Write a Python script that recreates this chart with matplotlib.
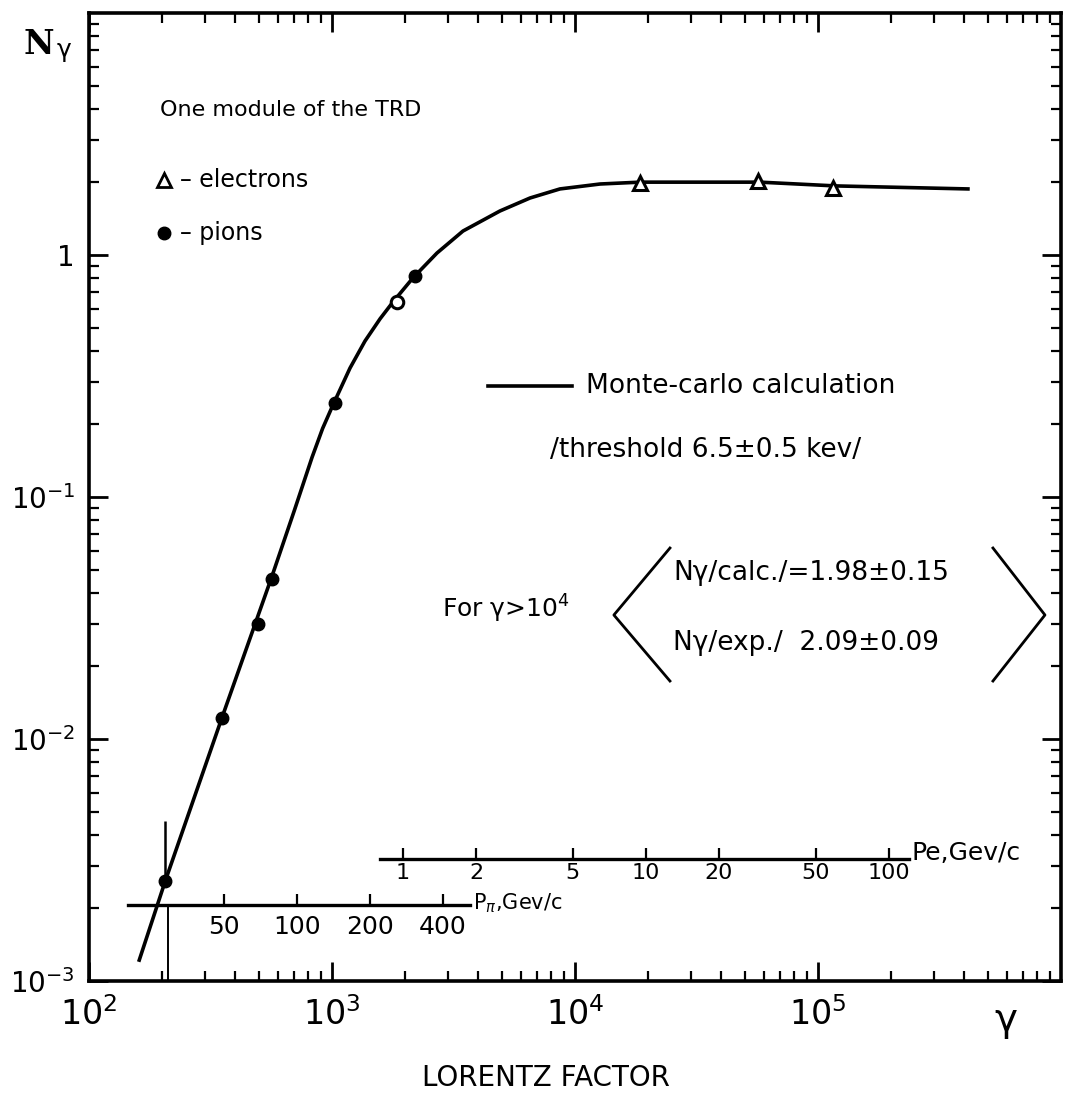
import matplotlib.pyplot as plt
from matplotlib.ticker import NullFormatter

# Monte-carlo calculation (solid curve)
curve_gamma = [161, 206, 352, 566, 700, 828, 915, 1009, 1186, 1367, 1577, 1783, 2153,
               2704, 3459, 4910, 6530, 8670, 12680, 18500, 57700, 117500, 414000]
curve_n = [1.22e-3, 2.59e-3, 0.0122, 0.0470, 0.088, 0.146, 0.192, 0.240, 0.341, 0.441,
           0.545, 0.640, 0.804, 1.019, 1.256, 1.52, 1.72, 1.875, 1.965, 2.0, 2.0,
           1.93, 1.875]

# measured points
pion_gamma = [206, 352, 496, 566, 1028, 2200]
pion_n = [2.6e-3, 0.0122, 0.030, 0.046, 0.245, 0.82]
pion_err_up = [2.0e-3, 0, 0, 0, 0, 0]
open_gamma = [1850]
open_n = [0.64]
electron_gamma = [18500, 56600, 115000]
electron_n = [1.98, 2.02, 1.90]

# momentum scales drawn inside the plot
m_pion = 0.1396   # GeV
m_electron = 0.000511
p_pi_ticks = [50, 100, 200, 400]
p_e_ticks = [1, 2, 5, 10, 20, 50, 100]

x_ticks = [1e2, 1e3, 1e4, 1e5]
x_ticklabels = ['$10^{2}$', '$10^{3}$', '$10^{4}$', '$10^{5}$']
y_ticks = [1e-3, 1e-2, 1e-1, 1]
y_ticklabels = ['$10^{-3}$', '$10^{-2}$', '$10^{-1}$', '1']

fig = plt.figure(figsize=(10.66, 10.94), dpi=100)
ax = fig.add_axes([89 / 1066, 1 - 981 / 1094, 972 / 1066, 968 / 1094])
ax.set_xscale('log')
ax.set_yscale('log')
ax.set_xlim(1e2, 1e6)
ax.set_ylim(1e-3, 1e1)

ax.plot(curve_gamma, curve_n, color='black', lw=2.6, zorder=3)
ax.errorbar(pion_gamma, pion_n, yerr=[[0] * len(pion_err_up), pion_err_up],
            fmt='o', color='black', ms=9, elinewidth=1.8, capsize=0, zorder=4)
ax.plot(open_gamma, open_n, 'o', mfc='white', mec='black', mew=2.2, ms=9, zorder=4)
ax.plot(electron_gamma, electron_n, '^', mfc='white', mec='black', mew=2.2, ms=10, zorder=4)

# P_pi scale
n_pi = 2.06e-3
ax.plot([145, 3700], [n_pi, n_pi], color='black', lw=2.4)
pi_pos = [p / m_pion for p in p_pi_ticks]
ax.plot(pi_pos, [n_pi] * len(pi_pos), ls='none', marker=2, ms=8, mew=1.6, color='black')
for p, g in zip(p_pi_ticks, pi_pos):
    ax.annotate(str(p), (g, n_pi), xytext=(0, -7), textcoords='offset points',
                ha='center', va='top', fontsize=18)
ax.annotate(r'P$_\pi$,Gev/c', (3700, n_pi), xytext=(2, 1), textcoords='offset points',
            ha='left', va='center', fontsize=15)
ax.vlines(211, 1e-3, n_pi, color='black', lw=1.4)

# P_e scale
n_e = 3.19e-3
ax.plot([1578, 236600], [n_e, n_e], color='black', lw=2.4)
e_pos = [p / m_electron for p in p_e_ticks]
ax.plot(e_pos, [n_e] * len(e_pos), ls='none', marker=2, ms=8, mew=1.6, color='black')
for p, g in zip(p_e_ticks, e_pos):
    ax.annotate(str(p), (g, n_e), xytext=(0, -3), textcoords='offset points',
                ha='center', va='top', fontsize=16)
ax.annotate('Pe,Gev/c', (236600, n_e), xytext=(2, -4), textcoords='offset points',
            ha='left', va='bottom', fontsize=18)

# axes look
for s in ax.spines.values():
    s.set_linewidth(2.6)
ax.tick_params(which='both', direction='in', top=True, right=True, color='black')
ax.tick_params(which='major', length=14, width=2)
ax.tick_params(which='minor', length=7, width=1.6)
ax.set_xticks(x_ticks)
ax.set_xticklabels(x_ticklabels)
ax.set_yticks(y_ticks)
ax.set_yticklabels(y_ticklabels)
ax.xaxis.set_minor_formatter(NullFormatter())
ax.yaxis.set_minor_formatter(NullFormatter())
ax.tick_params(axis='x', which='major', labelsize=24, pad=12)
ax.tick_params(axis='y', which='major', labelsize=20, pad=10)

ax.set_xlabel('LORENTZ FACTOR', fontsize=20)
ax.xaxis.set_label_coords(0.470, -0.086)
ax.text(0.943, -0.040, 'γ', transform=ax.transAxes, ha='center', va='center', fontsize=28)
ax.text(-0.052, 0.967, 'N', transform=ax.transAxes, ha='center', va='center',
        fontsize=24, family='DejaVu Serif', weight='bold')
ax.text(-0.026, 0.962, 'γ', transform=ax.transAxes, ha='center', va='center', fontsize=18)

# key in the upper left
ax.text(0.073, 0.900, 'One module of the TRD', transform=ax.transAxes, va='center', fontsize=16)
ax.plot([0.077], [0.8275], '^', transform=ax.transAxes, mfc='white', mec='black', mew=2, ms=10)
ax.text(0.094, 0.8275, '– electrons', transform=ax.transAxes, va='center', fontsize=17)
ax.plot([0.077], [0.7727], 'o', transform=ax.transAxes, color='black', ms=9)
ax.text(0.094, 0.7727, '– pions', transform=ax.transAxes, va='center', fontsize=17)

# Monte-carlo key and results
ax.plot([0.410, 0.497], [0.615, 0.615], transform=ax.transAxes, color='black', lw=2.6)
ax.text(0.511, 0.615, 'Monte-carlo calculation', transform=ax.transAxes, va='center', fontsize=19)
ax.text(0.474, 0.5486, '/threshold 6.5±0.5 kev/', transform=ax.transAxes, va='center', fontsize=19)
ax.text(0.363, 0.384, 'For γ>10$^{4}$', transform=ax.transAxes, va='center', fontsize=18)
ax.plot([0.5977, 0.540, 0.5977], [0.4473, 0.3781, 0.3099], transform=ax.transAxes,
        color='black', lw=2)
ax.plot([0.930, 0.9835, 0.930], [0.4473, 0.3781, 0.3099], transform=ax.transAxes,
        color='black', lw=2)
ax.text(0.601, 0.4215, 'Nγ/calc./=1.98±0.15', transform=ax.transAxes,
        va='center', fontsize=19)
ax.text(0.601, 0.349, 'Nγ/exp./  2.09±0.09', transform=ax.transAxes,
        va='center', fontsize=19)

fig.savefig('out.png', dpi=100)
